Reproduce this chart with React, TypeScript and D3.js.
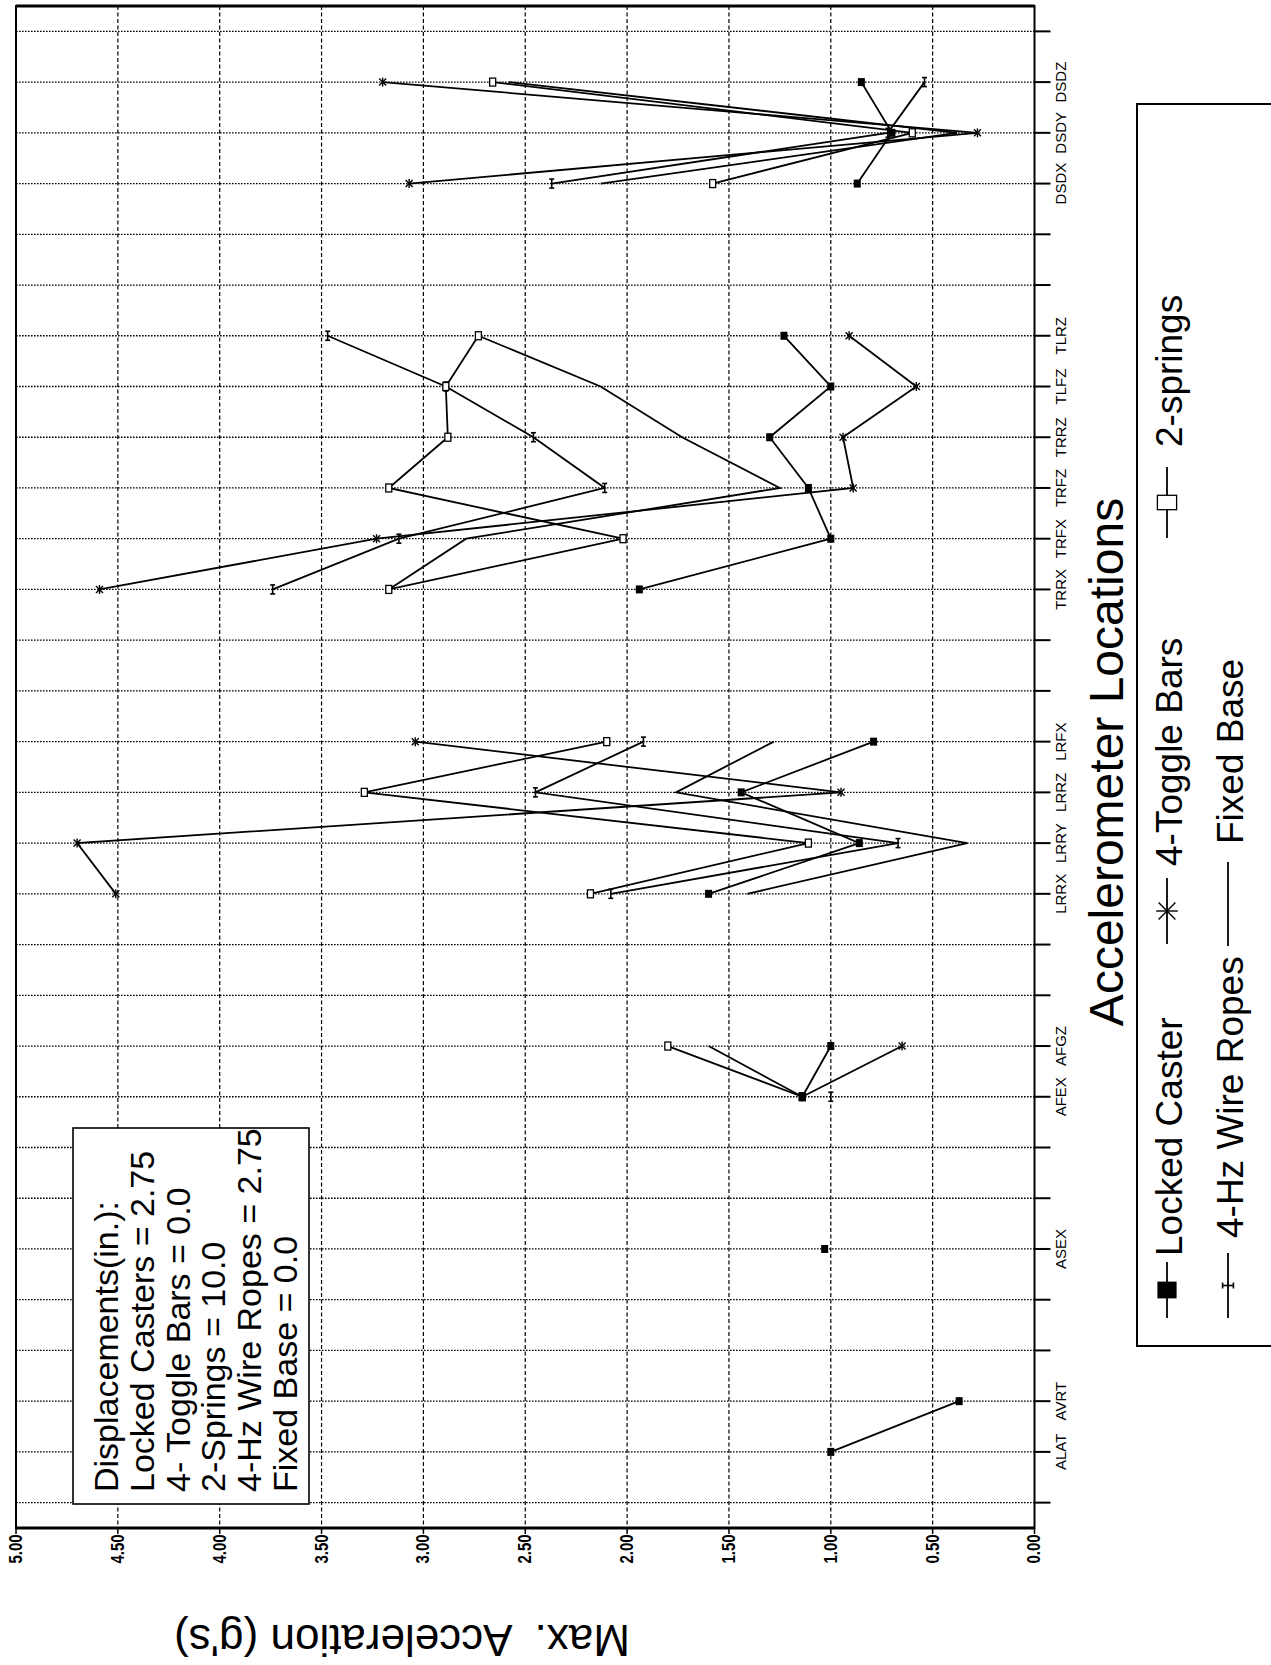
import * as d3 from "d3";

// accelerometer locations, bottom of the plot first ("" = empty slot)
const locations = [
  "", "ALAT", "AVRT", "", "", "ASEX", "", "", "AFEX", "AFGZ",
  "", "", "LRRX", "LRRY", "LRRZ", "LRFX", "", "", "TRRX", "TRFX",
  "TRFZ", "TRRZ", "TLFZ", "TLRZ", "", "", "DSDX", "DSDY", "DSDZ", "",
];

const _ = null;
const lockedCaster = [
  _, 1.0, 0.37, _, _, 1.03, _, _, 1.14, 1.0,
  _, _, 1.6, 0.86, 1.44, 0.79, _, _, 1.94, 1.0,
  1.11, 1.3, 1.0, 1.23, _, _, 0.87, 0.7, 0.85, _,
];
const toggleBars = [
  _, _, _, _, _, _, _, _, 1.14, 0.65,
  _, _, 4.51, 4.7, 0.95, 3.04, _, _, 4.59, 3.23,
  0.89, 0.94, 0.58, 0.91, _, _, 3.07, 0.28, 3.2, _,
];
const twoSprings = [
  _, _, _, _, _, _, _, _, 1.14, 1.8,
  _, _, 2.18, 1.11, 3.29, 2.1, _, _, 3.17, 2.02,
  3.17, 2.88, 2.89, 2.73, _, _, 1.58, 0.6, 2.66, _,
];
const wireRopes = [
  _, _, _, _, _, _, _, _, 1.0, _,
  _, _, 2.08, 0.67, 2.45, 1.92, _, _, 3.74, 3.12,
  2.11, 2.46, 2.89, 3.47, _, _, 2.37, 0.72, 0.54, _,
];
const fixedBase = [
  _, _, _, _, _, _, _, _, 1.14, 1.6,
  _, _, 1.41, 0.33, 1.76, 1.28, _, _, 3.17, 2.79,
  1.25, 1.73, 2.13, 2.73, _, _, 2.13, 0.38, 2.58, _,
];

const accelTicks = [0, 0.5, 1, 1.5, 2, 2.5, 3, 3.5, 4, 4.5, 5];

const noteLines = [
  "Displacements(in.):",
  "Locked Casters = 2.75",
  "4- Toggle Bars = 0.0",
  "2-Springs = 10.0",
  "4-Hz Wire Ropes = 2.75",
  "Fixed Base = 0.0",
];

type Marker = "filled" | "open" | "star" | "bar" | "none";
const series: { name: string; values: (number | null)[]; marker: Marker }[] = [
  { name: "Fixed Base", values: fixedBase, marker: "none" },
  { name: "4-Hz Wire Ropes", values: wireRopes, marker: "bar" },
  { name: "2-springs", values: twoSprings, marker: "open" },
  { name: "4-Toggle Bars", values: toggleBars, marker: "star" },
  { name: "Locked Caster", values: lockedCaster, marker: "filled" },
];

const FONT = "'Liberation Sans', Arial, Helvetica, sans-serif";
const W = 1271;
const H = 1665;
const left = 16;
const right = 1034.5;
const top = 6;
const bottom = 1528;

function MarkerShape({ type, cx, cy, s = 1 }: { type: Marker; cx: number; cy: number; s?: number }) {
  if (type === "filled")
    return <rect x={cx - 3.5 * s} y={cy - 4 * s} width={7 * s} height={8 * s} fill="#000" />;
  if (type === "open")
    return <rect x={cx - 3 * s} y={cy - 4 * s} width={6 * s} height={8 * s} fill="#fff" stroke="#000" strokeWidth={1.3} />;
  if (type === "star")
    return (
      <g stroke="#000" strokeWidth={1.4}>
        <line x1={cx} x2={cx} y1={cy - 4.5 * s} y2={cy + 4.5 * s} />
        <line x1={cx - 3.5 * s} x2={cx + 3.5 * s} y1={cy - 3.5 * s} y2={cy + 3.5 * s} />
        <line x1={cx - 3.5 * s} x2={cx + 3.5 * s} y1={cy + 3.5 * s} y2={cy - 3.5 * s} />
      </g>
    );
  if (type === "bar")
    return (
      <g stroke="#000" strokeWidth={1.6}>
        <line x1={cx} x2={cx} y1={cy - 4.5 * s} y2={cy + 4.5 * s} />
        <line x1={cx - 2.5 * s} x2={cx + 2.5 * s} y1={cy - 4.5 * s} y2={cy - 4.5 * s} />
        <line x1={cx - 2.5 * s} x2={cx + 2.5 * s} y1={cy + 4.5 * s} y2={cy + 4.5 * s} />
      </g>
    );
  return null;
}

export default function App() {
  const x = d3.scaleLinear().domain([0, 5]).range([right, left]);
  const band = d3
    .scaleBand<number>()
    .domain(d3.range(locations.length))
    .range([bottom, top]);
  const yc = (i: number) => (band(i) as number) + band.bandwidth() / 2;

  const line = d3
    .line<number | null>()
    .defined((d) => d != null)
    .x((d) => x(d as number))
    .y((_d, i) => yc(i));

  return (
    <svg
      width={W}
      height={H}
      style={{ position: "absolute", left: 0, top: 0, background: "#fff" }}
      fontFamily={FONT}
    >
      <rect width={W} height={H} fill="#fff" />

      {/* grid */}
      {locations.map((_l, i) => (
        <g key={"h" + i}>
          <line x1={left} x2={right} y1={yc(i)} y2={yc(i)} stroke="#000" strokeWidth={1.3} strokeDasharray="1.6,1.4" />
          <line x1={right} x2={right + 16} y1={yc(i)} y2={yc(i)} stroke="#000" strokeWidth={2} />
        </g>
      ))}
      {accelTicks.map((t) => (
        <g key={"v" + t}>
          {t > 0 && t < 5 && (
            <line x1={x(t)} x2={x(t)} y1={top} y2={bottom} stroke="#000" strokeWidth={1.2} strokeDasharray="4,2.5" />
          )}
          <line x1={x(t)} x2={x(t)} y1={bottom} y2={bottom + 6} stroke="#000" strokeWidth={1.5} />
          <text
            transform={`translate(${x(t)},${1549}) rotate(-90) scale(1,1.2)`}
            textAnchor="middle"
            dominantBaseline="central"
            fontSize={15}
            fontWeight={700}
          >
            {t.toFixed(2)}
          </text>
        </g>
      ))}

      {/* frame */}
      <rect x={left} y={top} width={right - left} height={bottom - top} fill="none" stroke="#000" strokeWidth={2} />
      <line x1={left} x2={right} y1={bottom} y2={bottom} stroke="#000" strokeWidth={3} />
      <line x1={left} x2={right} y1={top} y2={top} stroke="#000" strokeWidth={3} />

      {/* category labels */}
      {locations.map((l, i) =>
        l ? (
          <text
            key={"c" + i}
            transform={`translate(${1066},${yc(i)}) rotate(-90)`}
            textAnchor="middle"
            fontSize={15}
          >
            {l}
          </text>
        ) : null
      )}

      {/* note box */}
      <rect x={73} y={1128} width={236} height={376} fill="#fff" stroke="#000" strokeWidth={1.6} />
      {noteLines.map((t, i) => (
        <text key={"n" + i} transform={`translate(${118 + i * 35.8},${1492}) rotate(-90)`} fontSize={34}>
          {t}
        </text>
      ))}

      {/* series */}
      {series.map((s) => (
        <g key={s.name}>
          <path d={line(s.values) ?? ""} fill="none" stroke="#000" strokeWidth={1.8} />
          {s.values.map((v, i) =>
            v == null ? null : <MarkerShape key={i} type={s.marker} cx={x(v)} cy={yc(i)} />
          )}
        </g>
      ))}

      {/* titles */}
      <text transform={`translate(${1123},${762}) rotate(-90)`} textAnchor="middle" fontSize={48}>
        Accelerometer Locations
      </text>
      <text transform={`translate(${402},${1625}) rotate(180)`} textAnchor="middle" fontSize={44} xmlSpace="preserve">
        Max.  Acceleration (g's)
      </text>

      {/* legend */}
      <rect x={1137} y={104} width={200} height={1242} fill="none" stroke="#000" strokeWidth={2} />
      {[
        { name: "Locked Caster", marker: "filled" as Marker, lx: 1167, tx: 1182, y0: 1318, y1: 1262, ty: 1256 },
        { name: "4-Toggle Bars", marker: "star" as Marker, lx: 1167, tx: 1182, y0: 944, y1: 878, ty: 890 - 24 },
        { name: "2-springs", marker: "open" as Marker, lx: 1167, tx: 1182, y0: 538, y1: 467, ty: 447 },
        { name: "4-Hz Wire Ropes", marker: "bar" as Marker, lx: 1228, tx: 1243, y0: 1318, y1: 1253, ty: 1238 },
        { name: "Fixed Base", marker: "none" as Marker, lx: 1228, tx: 1243, y0: 946, y1: 862, ty: 844 },
      ].map((e) => (
        <g key={"l" + e.name}>
          <line x1={e.lx} x2={e.lx} y1={e.y0} y2={e.y1} stroke="#000" strokeWidth={1.8} />
          <g transform={`translate(${e.lx},${(e.y0 + e.y1) / 2}) rotate(90)`}>
            <MarkerShape type={e.marker} cx={0} cy={0} s={e.marker === "bar" ? 1.2 : 2.4} />
          </g>
          <text transform={`translate(${e.tx},${e.ty}) rotate(-90)`} fontSize={37}>
            {e.name}
          </text>
        </g>
      ))}
    </svg>
  );
}
